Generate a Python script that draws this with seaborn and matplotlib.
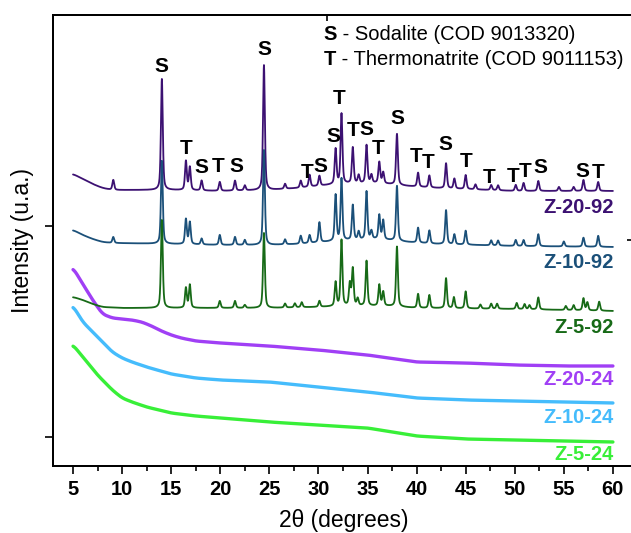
import matplotlib
matplotlib.use("Agg")
import matplotlib.pyplot as plt
import numpy as np
import pandas as pd
import seaborn as sns

# 样品名称与颜色
names = ["Z-20-92", "Z-10-92", "Z-5-92", "Z-20-24", "Z-10-24", "Z-5-24"]
colors = ["#3c1172", "#1b5079", "#176a17", "#a03ff5", "#45bcfc", "#38ef38"]

# 结晶样品：基线节点 (2θ, 强度)
base_2092_x = [5, 6, 7, 8, 9, 15, 20, 25, 28, 32, 36, 39, 42, 50, 60]
base_2092_y = [292, 287, 282, 278, 276, 276, 275, 276, 278, 282, 283, 280, 278, 275, 275]
base_1092_x = [5, 6, 7, 8, 9, 15, 20, 25, 28, 32, 36, 39, 42, 50, 60]
base_1092_y = [236, 231, 227, 224, 223, 222, 221, 221, 222, 225, 227, 224, 222, 220, 219]
base_592_x = [5, 6, 7, 8, 10, 20, 25, 30, 33, 37, 40, 50, 60]
base_592_y = [169, 166, 162, 159, 158, 158, 158, 159, 160, 160, 158, 157, 155]

# 衍射峰位置与峰高
peaks_2092_pos = [9.1, 14.05, 16.5, 16.9, 18.1, 19.95, 21.5, 22.5, 24.45, 26.6, 28.2, 29.1, 30.1,
                  31.75, 32.35, 33.5, 34.1, 34.9, 35.4, 36.2, 36.6, 38.0, 40.15, 41.3, 43.0, 43.85,
                  45.0, 46.0, 47.6, 48.3, 50.1, 50.9, 52.4, 54.5, 56.0, 57.0, 58.5]
peaks_2092_h = [10, 111, 29, 23, 10, 9, 10, 5, 125, 5, 7, 12, 10,
                35, 70, 36, 8, 38, 8, 21, 11, 51, 14, 12, 25, 10,
                14, 5, 5, 5, 6, 8, 10, 4, 4, 11, 9]
peaks_1092_pos = [9.1, 14.05, 16.5, 16.9, 18.1, 19.95, 21.5, 22.5, 24.45, 26.6, 28.2, 29.1, 30.1,
                  31.75, 32.35, 33.5, 34.1, 34.9, 35.4, 36.2, 36.6, 38.0, 40.15, 41.3, 43.0, 43.85,
                  45.0, 47.6, 48.3, 50.1, 50.9, 52.4, 55.0, 57.0, 58.5]
peaks_1092_h = [6, 83, 25, 22, 6, 10, 8, 5, 95, 5, 8, 8, 20,
                46, 62, 35, 8, 48, 8, 24, 19, 55, 15, 13, 34, 10,
                14, 5, 5, 6, 6, 12, 5, 9, 11]
peaks_592_pos = [14.05, 16.5, 16.9, 19.95, 21.5, 22.5, 24.45, 26.6, 27.6, 28.3, 30.1,
                 31.75, 32.35, 33.2, 33.5, 34.0, 34.9, 36.2, 36.6, 38.0, 40.15, 41.3, 43.0, 43.8,
                 45.0, 46.5, 47.6, 48.2, 50.2, 51.0, 51.5, 52.4, 55.2, 56.0, 57.0, 57.4, 58.6]
peaks_592_h = [88, 20, 23, 7, 7, 3, 75, 4, 4, 5, 6,
               24, 66, 22, 37, 7, 45, 21, 14, 60, 14, 13, 30, 11,
               17, 4, 5, 5, 6, 5, 4, 12, 4, 5, 12, 8, 9]

# 非晶样品曲线节点
amor_x_2024 = [5, 6, 7, 8, 9, 10, 11, 12, 13, 14, 15, 16, 17.5, 20, 25, 30, 35, 40, 45, 50, 55, 60]
amor_y_2024 = [198, 182, 166, 152, 148, 147, 146, 144, 140, 135, 131, 128, 125, 123, 120, 116,
               111, 104, 103, 101, 100, 100]
amor_x_1024 = [5, 6, 7.5, 9, 10, 11, 12.5, 15, 17.5, 20, 25, 30, 35, 40, 45, 50, 55, 60]
amor_y_1024 = [160, 144, 129, 114, 108, 104, 99, 92, 88, 86, 84, 79, 74, 68, 66, 65, 64, 63]
amor_x_524 = [5, 6, 7.5, 9, 10, 11, 12.5, 15, 17.5, 20, 25, 30, 35, 40, 45, 50, 55, 60]
amor_y_524 = [121, 109, 91, 76, 68, 64, 59, 53, 50, 48, 44, 41, 38, 30, 27, 26, 25, 24]

# 物相标注 (字母, 2θ, 高度)
marks = ["S", "T", "S", "T", "S", "S", "T", "S", "S", "T", "T", "S", "T", "S",
         "T", "T", "S", "T", "T", "T", "T", "S", "S", "T"]
marks_x = [14.05, 16.5, 18.1, 19.8, 21.6, 24.5, 28.8, 30.2, 31.5, 32.1, 33.5, 34.9,
           36.1, 38.0, 40.0, 41.2, 42.9, 45.0, 47.4, 49.8, 51.1, 52.6, 56.9, 58.5]
marks_y = [399, 317, 298, 299, 299, 416, 293, 299, 329, 367, 335, 336,
           317, 347, 309, 303, 321, 304, 288, 289, 294, 298, 294, 293]

# 曲线名称的位置
label_y = [258, 203, 138, 86, 48, 12]

tt = np.arange(5, 60.005, 0.01)


def smooth(y, win=81):
    pad = win // 2
    yp = np.pad(y, pad, mode="edge")
    return np.convolve(yp, np.ones(win) / win, mode="valid")


def pattern(bx, by, pos, h, fwhm=0.22):
    y = smooth(np.interp(tt, bx, by))
    g = fwhm / 2
    for p, a in zip(pos, h):
        lor = 1 / (1 + ((tt - p) / g) ** 2)
        gau = np.exp(-np.log(2) * ((tt - p) / g) ** 2)
        y = y + a * (0.5 * lor + 0.5 * gau)
    return y


series = {
    "Z-20-24": smooth(np.interp(tt, amor_x_2024, amor_y_2024)),
    "Z-10-24": smooth(np.interp(tt, amor_x_1024, amor_y_1024)),
    "Z-5-24": smooth(np.interp(tt, amor_x_524, amor_y_524)),
    "Z-20-92": pattern(base_2092_x, base_2092_y, peaks_2092_pos, peaks_2092_h),
    "Z-10-92": pattern(base_1092_x, base_1092_y, peaks_1092_pos, peaks_1092_h),
    "Z-5-92": pattern(base_592_x, base_592_y, peaks_592_pos, peaks_592_h),
}

sns.set_theme(style="ticks")
plt.rcParams["font.family"] = ["Liberation Sans", "DejaVu Sans"]
plt.rcParams["axes.linewidth"] = 1.2
plt.rcParams["text.color"] = "black"
plt.rcParams["axes.labelcolor"] = "black"
plt.rcParams["xtick.color"] = "black"
plt.rcParams["ytick.color"] = "black"

fig = plt.figure(figsize=(6.31, 5.33), dpi=100)
ax = fig.add_axes([0.084, 0.1257, 0.92, 0.8462])

color_map = dict(zip(names, colors))
for name, yv in series.items():
    df = pd.DataFrame({"2θ": tt, "I": yv})
    lw = 2.4 if name.endswith("24") else 1.3
    sns.lineplot(data=df, x="2θ", y="I", ax=ax, color=color_map[name], lw=lw,
                 estimator=None, sort=False)

for name, y in zip(names, label_y):
    ax.text(60.1, y, name, ha="right", va="center", fontsize=14.5, fontweight="bold",
            color=color_map[name])

for m, x, y in zip(marks, marks_x, marks_y):
    ax.text(x, y, m, ha="center", va="center", fontsize=15, fontweight="bold", color="black")

ax.text(30.5, 431, "S", ha="left", va="center", fontsize=14.5, fontweight="bold")
ax.text(31.87, 431, " - Sodalite (COD 9013320)", ha="left", va="center", fontsize=14.5)
ax.text(30.5, 406, "T", ha="left", va="center", fontsize=14.5, fontweight="bold")
ax.text(31.76, 406, " - Thermonatrite (COD 9011153)", ha="left", va="center", fontsize=14.5)

ax.set_xlim(2.96, 62.1)
ax.set_ylim(0, 451)
xt = np.arange(5, 61, 5)
ax.set_xticks(xt, labels=[str(v) for v in xt], fontweight="bold", fontsize=14.5)
ax.set_xticks(np.arange(7.5, 60, 5), minor=True)
ax.set_yticks([29, 240])
ax.set_yticklabels([])
ax.tick_params(axis="x", which="major", length=6, width=1.2, pad=4)
ax.tick_params(axis="x", which="minor", length=3.5, width=1.2)
ax.tick_params(axis="y", length=6, width=1.2)
ax.set_xlabel("2θ (degrees)", fontsize=16.5, labelpad=7)
ax.set_ylabel("Intensity (u.a.)", fontsize=16.5, labelpad=4)

ax_r = ax.twinx()
ax_r.set_ylim(0, 451)
ax_r.set_yticks([226])
ax_r.set_yticklabels([])
ax_r.tick_params(axis="y", direction="in", length=5, width=1.2)
ax_t = ax.twiny()
ax_t.set_xlim(2.96, 62.1)
ax_t.set_xticks([30.9])
ax_t.set_xticklabels([])
ax_t.tick_params(axis="x", direction="in", length=4, width=1.2)
for a in (ax, ax_r, ax_t):
    for s in a.spines.values():
        s.set_linewidth(1.2)
        s.set_color("black")

fig.savefig("out.png", dpi=100)
